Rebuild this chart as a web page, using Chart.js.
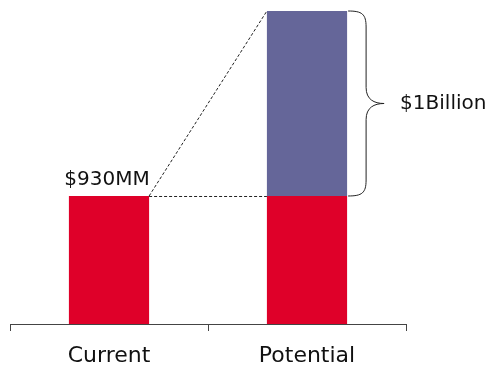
<!DOCTYPE html>
<html>
<head>
<meta charset="utf-8">
<script src="https://cdn.jsdelivr.net/npm/chart.js@4/dist/chart.umd.min.js"></script>
<style>
  body { margin: 0; background: #fff; }
  canvas { display: block; }
</style>
</head>
<body>
<canvas id="valueChart" width="492" height="366"></canvas>
<script>
const categories = ["Current", "Potential"];
const baseValues = [930, 930];
const upliftValues = [null, 1000];
const baseLabel = "$930MM";
const upliftLabel = "$1Billion";

const RED = "#df0029";
const PURPLE = "#656699";
const INK = "#222";

// dashed connectors, brace and value text drawn on top of the bars
const annotations = {
  id: "annotations",
  afterDatasetsDraw(chart) {
    const ctx = chart.ctx;
    const cur = chart.getDatasetMeta(0).data[0];
    const pot = chart.getDatasetMeta(1).data[1];
    const curRight = cur.x + cur.width / 2;
    const potLeft = pot.x - pot.width / 2;
    const potRight = pot.x + pot.width / 2;

    ctx.save();
    ctx.strokeStyle = INK;
    ctx.lineWidth = 1;
    ctx.setLineDash([3, 2]);
    ctx.beginPath();
    ctx.moveTo(curRight, cur.y + 0.5);
    ctx.lineTo(potLeft, cur.y + 0.5);
    ctx.moveTo(curRight, cur.y);
    ctx.lineTo(potLeft, pot.y);
    ctx.stroke();
    ctx.setLineDash([]);

    // curly brace beside the uplift segment
    const top = pot.y;
    const bot = pot.base;
    const mid = (top + bot) / 2;
    const x0 = potRight + 1;
    const x1 = x0 + 18;
    const tip = x0 + 36;
    ctx.strokeStyle = "#222";
    ctx.beginPath();
    ctx.moveTo(x0, top);
    ctx.bezierCurveTo(x1 - 4, top, x1, top + 3, x1, top + 16);
    ctx.lineTo(x1, mid - 16);
    ctx.bezierCurveTo(x1, mid - 4, x1 + 8, mid, tip, mid);
    ctx.bezierCurveTo(x1 + 8, mid, x1, mid + 4, x1, mid + 16);
    ctx.lineTo(x1, bot - 16);
    ctx.bezierCurveTo(x1, bot - 3, x1 - 4, bot, x0, bot);
    ctx.stroke();

    ctx.fillStyle = "#111";
    ctx.font = "20px 'DejaVu Sans'";
    ctx.textBaseline = "middle";
    ctx.textAlign = "left";
    ctx.fillText(upliftLabel, tip + 16, mid);
    ctx.textAlign = "center";
    ctx.textBaseline = "bottom";
    ctx.fillText(baseLabel, cur.x - 2, cur.y - 6);
    ctx.restore();
  }
};

new Chart(document.getElementById("valueChart"), {
  type: "bar",
  data: {
    labels: categories,
    datasets: [
      {
        data: baseValues,
        backgroundColor: RED,
        barPercentage: 0.405,
        categoryPercentage: 1,
      },
      {
        data: upliftValues,
        backgroundColor: PURPLE,
        barPercentage: 0.405,
        categoryPercentage: 1,
      },
    ],
  },
  options: {
    responsive: false,
    animation: false,
    layout: {
      padding: { top: 11, left: 10, right: 86, bottom: 0 },
    },
    plugins: {
      legend: { display: false },
      tooltip: { enabled: false },
    },
    scales: {
      x: {
        stacked: true,
        afterFit(scale) {
          scale.height = 42;
        },
        grid: {
          offset: true,
          drawOnChartArea: false,
          tickLength: 7,
          tickColor: "#444",
        },
        border: { color: "#444", width: 1 },
        ticks: {
          color: "#111",
          padding: 14,
          font: { family: "DejaVu Sans", size: 22, lineHeight: 1.05 },
        },
      },
      y: {
        stacked: true,
        display: false,
        min: 238,
        max: 1930,
      },
    },
  },
  plugins: [annotations],
});
</script>
</body>
</html>
